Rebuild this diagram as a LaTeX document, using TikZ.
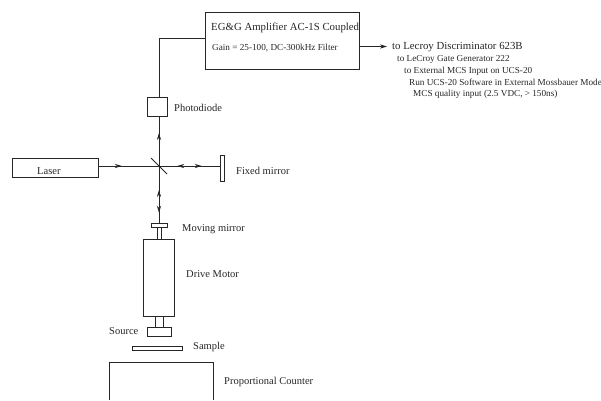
\documentclass[tikz,border=0pt]{standalone}
\usepackage{fontspec}
\setmainfont{Liberation Serif}
\usetikzlibrary{arrows.meta,decorations.markings}
\tikzset{
  x=1pt,y=-1pt,
  line/.style={draw=black!85,line width=0.8pt},
  box/.style={line,rectangle,inner sep=0pt,outer sep=0pt},
  lab/.style={anchor=west,inner sep=0pt,text=black!85,font=\fontsize{9.2}{10}\selectfont},
  midlab/.style={lab,font=\fontsize{10.5}{12}\selectfont},
  biglab/.style={lab,font=\fontsize{10.8}{12}\selectfont},
  tipat/.style={postaction={decorate,decoration={markings,mark=at position #1 with {\arrow{Stealth[length=7pt,width=4.2pt]}}}}},
  tipback/.style={postaction={decorate,decoration={markings,mark=at position #1 with {\arrowreversed{Stealth[length=7pt,width=4.2pt]}}}}},
}
\newcommand{\boxnode}[5]{\node[box,minimum width=#4 pt,minimum height=#5 pt] (#1) at (#2,#3) {};}
\begin{document}
\begin{tikzpicture}
\useasboundingbox (0,0) rectangle (601,400);
\boxnode{amp}{282}{40.5}{154}{57}
\boxnode{pd}{157}{106.5}{20}{19}
\boxnode{laser}{55}{167.5}{86}{19}
\boxnode{fixed}{222}{168}{4}{26}
\boxnode{mm}{159}{225}{16}{4}
\boxnode{mstem}{159}{233}{4}{12}
\boxnode{motor}{158.5}{277.5}{31}{77}
\boxnode{sstem}{159}{321.5}{8}{11}
\boxnode{source}{159}{331.5}{24}{9}
\boxnode{sample}{157}{348.5}{50}{4}
\coordinate (bs) at (159,166);
\coordinate (bsa) at (151,158);
\coordinate (bsb) at (167,174);
\coordinate (corner) at (159,38.5);
\coordinate (ampin) at (205,38.5);
\coordinate (ampout) at (359,46.5);
\coordinate (outend) at (387,46.5);
\coordinate (cl) at (109,362);
\coordinate (cr) at (213,362);
\coordinate (clb) at (109,400);
\coordinate (crb) at (213,400);
\draw[line] (bs |- pd.north) -- (corner) -- (ampin);
\draw[line,tipat=0.66] (bs) -- (bs |- pd.south);
\draw[line,tipat=0.39] (laser.east |- bs) -- (bs);
\draw[line,tipat=0.70,tipback=0.30] (bs) -- (fixed.west |- bs);
\draw[line,tipat=0.82,tipback=0.42] (bs) -- (mm.north);
\draw[line] (bsa) -- (bsb);
\draw[line,-{Stealth[length=7pt,width=4.2pt]}] (ampout) -- (outend);
\draw[line] (clb) -- (cl) -- (cr) -- (crb);
\node[biglab] (t1) at (211,28) {EG\&G Amplifier AC-1S Coupled};
\node[lab] (t2) at (212,48) {Gain = 25-100, DC-300kHz Filter};
\node[biglab] (t3) at (392,47.5) {to Lecroy Discriminator 623B};
\node[lab] (t4) at (397,59) {to LeCroy Gate Generator 222};
\node[lab] (t5) at (404,71) {to External MCS Input on UCS-20};
\node[lab] (t6) at (409,82) {Run UCS-20 Software in External Mossbauer Mode};
\node[lab] (t7) at (413,94.5) {MCS quality input (2.5 VDC, > 150ns)};
\node[midlab] (t8) at (174,108) {Photodiode};
\node[midlab] (t9) at (37,171) {Laser};
\node[midlab] (t10) at (236,171) {Fixed mirror};
\node[midlab] (t11) at (182,229) {Moving mirror};
\node[midlab] (t12) at (186,274) {Drive Motor};
\node[midlab] (t13) at (109,331) {Source};
\node[midlab] (t14) at (193,347) {Sample};
\node[midlab] (t15) at (224,382) {Proportional Counter};
\end{tikzpicture}
\end{document}
